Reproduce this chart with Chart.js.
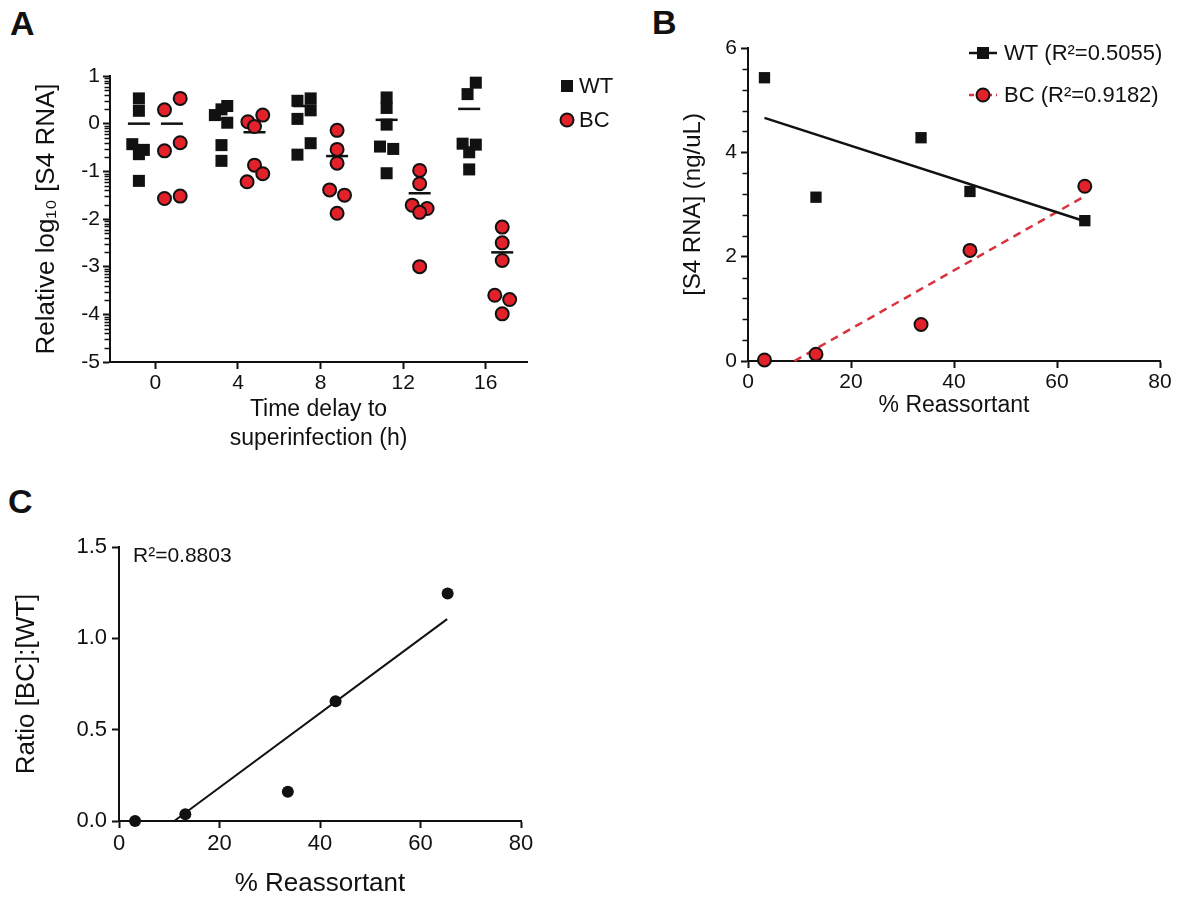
<!DOCTYPE html>
<html>
<head>
<meta charset="utf-8">
<script src="https://cdn.jsdelivr.net/npm/chart.js"></script>
<style>
  body { margin: 0; background: #fff; width: 1194px; height: 899px; position: relative; overflow: hidden;
         font-family: Arial, "Liberation Sans", sans-serif; }
  canvas { position: absolute; }
  .tag { position: absolute; font-weight: bold; font-size: 34px; color: #111; line-height: 1; }
</style>
</head>
<body>
<div class="tag" style="left:10px;top:6px">A</div>
<div class="tag" style="left:652px;top:5px">B</div>
<div class="tag" style="left:8px;top:484px">C</div>
<canvas id="chartA" style="left:0;top:0"></canvas>
<canvas id="chartB" style="left:600px;top:0"></canvas>
<canvas id="chartC" style="left:0;top:470px"></canvas>

<script>
// ---- data ----
// A: relative log10 [S4 RNA], 6 replicates per time point
const timeLabels = ['0', '4', '8', '12', '16'];
const wtLog = [
  [0.53, 0.27, -0.43, -0.55, -0.64, -1.20],
  [0.37, 0.30, 0.18, 0.02, -0.45, -0.78],
  [0.53, 0.48, 0.28, 0.10, -0.41, -0.65],
  [0.55, 0.33, -0.02, -0.48, -0.53, -1.04],
  [0.86, 0.62, -0.42, -0.44, -0.60, -0.96]
];
const bcLog = [
  [0.53, 0.29, -0.40, -0.57, -1.52, -1.57],
  [0.18, 0.04, -0.06, -0.87, -1.05, -1.22],
  [-0.14, -0.54, -0.83, -1.39, -1.50, -1.88],
  [-0.98, -1.26, -1.71, -1.78, -1.86, -3.00],
  [-2.17, -2.50, -2.87, -3.60, -3.69, -3.99]
];
const wtMean = [0.00, 0.10, 0.37, 0.08, 0.31];
const bcMean = [0.00, -0.18, -0.68, -1.46, -2.70];

// B and C: per % reassortant
const reassort = [3.2, 13.2, 33.6, 43.1, 65.4];
const wtConc = [5.43, 3.14, 4.28, 3.25, 2.69];
const bcConc = [0.02, 0.13, 0.70, 2.12, 3.35];
const wtFitX = [3.2, 65.4], wtFitY = [4.66, 2.68];
const bcFitX = [9.0, 65.4], bcFitY = [0.00, 3.16];
const ratio = [0.00, 0.037, 0.16, 0.655, 1.245];
const ratioFitX = [11.0, 65.3], ratioFitY = [0.00, 1.105];

// ---- layout / style ----
const INK = '#111';
const RED = '#e2212a';
const FONT = 'Arial, "Liberation Sans", sans-serif';
Chart.defaults.font.family = FONT;
Chart.defaults.color = INK;
Chart.defaults.animation = false;

// horizontal spread of the dots inside each column (category units)
const wtJit = [
  [-0.20, -0.20, -0.28, -0.14, -0.20, -0.20],
  [-0.13, -0.20, -0.28, -0.13, -0.20, -0.20],
  [-0.12, -0.28, -0.12, -0.28, -0.12, -0.28],
  [-0.20, -0.20, -0.20, -0.28, -0.12, -0.20],
  [-0.12, -0.22, -0.28, -0.12, -0.20, -0.20]
];
const bcJit = [
  [0.30, 0.11, 0.30, 0.11, 0.30, 0.11],
  [0.30, 0.12, 0.20, 0.20, 0.30, 0.11],
  [0.20, 0.20, 0.20, 0.11, 0.29, 0.20],
  [0.20, 0.20, 0.11, 0.29, 0.20, 0.20],
  [0.20, 0.20, 0.20, 0.11, 0.29, 0.20]
];

function pts(groups, jit) {
  const out = [];
  groups.forEach((g, i) => g.forEach((v, j) => out.push({ x: i + jit[i][j], y: v })));
  return out;
}
function pairs(xs, ys) { return xs.map((x, i) => ({ x: x, y: ys[i] })); }

function axis(o) {
  return {
    type: 'linear', min: o.min, max: o.max, position: o.pos,
    border: { display: true, color: INK, width: 2 },
    grid: { display: true, drawOnChartArea: false, drawTicks: true, tickLength: 7, tickWidth: 2, tickColor: INK },
    ticks: { color: INK, font: { size: o.fs || 21 }, padding: o.pad, stepSize: o.step, callback: o.cb },
    title: { display: true, text: o.title, color: INK, font: { size: o.ts || 24, lineHeight: 1.25 }, padding: o.titlePad },
    afterBuildTicks: o.ticks ? (s) => { s.ticks = o.ticks.map(v => ({ value: v })); } : undefined,
    afterFit: (s) => { if (o.w) s.width = o.w; if (o.h) s.height = o.h; }
  };
}

// short minor ticks on the y axis
const minorTicks = {
  id: 'minorTicks',
  afterDraw(chart, args, o) {
    if (!o.values) return;
    const s = chart.scales.y, ctx = chart.ctx, x = chart.chartArea.left - 1;
    ctx.save();
    ctx.strokeStyle = INK; ctx.lineWidth = 1.5;
    o.values.forEach(v => {
      const y = Math.round(s.getPixelForValue(v)) + 0.5;
      ctx.beginPath(); ctx.moveTo(x, y); ctx.lineTo(x - o.len, y); ctx.stroke();
    });
    ctx.restore();
  }
};

// legend drawn next to / inside the plot
const keyBox = {
  id: 'keyBox',
  afterDraw(chart, args, o) {
    if (!o.items) return;
    const ctx = chart.ctx, a = chart.chartArea;
    ctx.save();
    ctx.font = o.fs + 'px ' + FONT; ctx.textBaseline = 'middle'; ctx.fillStyle = INK;
    o.items.forEach((it, i) => {
      const x = a.right + o.dx, y = a.top + o.dy + i * o.gap;
      if (it.line) {
        ctx.beginPath(); ctx.strokeStyle = it.line; ctx.lineWidth = 2.5; ctx.setLineDash(it.dash || []);
        ctx.moveTo(x - 14, y); ctx.lineTo(x + 14, y); ctx.stroke(); ctx.setLineDash([]);
      }
      if (it.shape === 'rect') {
        ctx.fillStyle = INK; ctx.fillRect(x - 6, y - 6, 12, 12);
      } else {
        ctx.beginPath(); ctx.arc(x, y, 6.5, 0, Math.PI * 2);
        ctx.fillStyle = RED; ctx.fill(); ctx.lineWidth = 2; ctx.strokeStyle = INK; ctx.stroke();
      }
      ctx.fillStyle = INK;
      ctx.fillText(it.label, x + o.tx, y + 1);
    });
    ctx.restore();
  }
};

const note = {
  id: 'note',
  afterDraw(chart, args, o) {
    if (!o.text) return;
    const ctx = chart.ctx, a = chart.chartArea;
    ctx.save();
    ctx.font = '21px ' + FONT; ctx.textBaseline = 'middle'; ctx.fillStyle = INK;
    ctx.fillText(o.text, a.left + o.dx, a.top + o.dy);
    ctx.restore();
  }
};

function setSize(id, w, h) {
  const c = document.getElementById(id);
  c.width = w; c.height = h; c.style.width = w + 'px'; c.style.height = h + 'px';
  return c;
}

const base = { responsive: false, animation: false, events: [] };
const wtDot = { pointStyle: 'rect', pointRadius: 8.5, backgroundColor: INK, borderColor: INK, borderWidth: 0 };
const bcDot = { pointStyle: 'circle', pointRadius: 6.5, backgroundColor: RED, borderColor: INK, borderWidth: 2 };

// log-style minor ticks for panel A, 0.4 steps for panel B
const logMinor = [];
for (let n = -5; n < 1; n++) for (let k = 2; k <= 9; k++) logMinor.push(n + Math.log10(k));
const linMinor = [];
for (let v = 0.4; v < 6; v += 0.4) if (Math.abs(v / 2 - Math.round(v / 2)) > 0.01) linMinor.push(v);

// ---- panel A ----
new Chart(setSize('chartA', 640, 470), {
  type: 'scatter',
  data: {
    datasets: [
      Object.assign({ label: 'WT', data: pts(wtLog, wtJit), clip: false }, wtDot),
      Object.assign({ label: 'BC', data: pts(bcLog, bcJit), clip: false }, bcDot),
      { label: 'WT mean', data: wtMean.map((v, i) => ({ x: i - 0.2, y: v })), pointStyle: 'line',
        pointRadius: 11, borderColor: INK, borderWidth: 2.5 },
      { label: 'BC mean', data: bcMean.map((v, i) => ({ x: i + 0.2, y: v })), pointStyle: 'line',
        pointRadius: 11, borderColor: INK, borderWidth: 2.5 }
    ]
  },
  options: Object.assign({}, base, {
    layout: { padding: { left: 0, top: 76, right: 113, bottom: 0 } },
    plugins: {
      legend: { display: false }, tooltip: { enabled: false },
      minorTicks: { values: logMinor, len: 4.5 },
      keyBox: { fs: 22, dx: 40, dy: 10, gap: 34, tx: 12, items: [
        { shape: 'rect', label: 'WT' }, { shape: 'circle', label: 'BC' }] }
    },
    scales: {
      x: axis({ min: -0.55, max: 4.5, pos: 'bottom', ticks: [0, 1, 2, 3, 4], pad: 2, h: 108, ts: 23,
                cb: v => timeLabels[v], title: ['Time delay to', 'superinfection (h)'],
                titlePad: { top: 6, bottom: 17 } }),
      y: axis({ min: -5, max: 1, pos: 'left', step: 1, pad: 3, w: 110, ts: 26,
                title: 'Relative log\u2081\u2080 [S4 RNA]', titlePad: { top: 31, bottom: 0 } })
    }
  }),
  plugins: [minorTicks, keyBox]
});

// ---- panel B ----
new Chart(setSize('chartB', 594, 440), {
  type: 'scatter',
  data: {
    datasets: [
      Object.assign({ label: 'WT', data: pairs(reassort, wtConc), clip: false }, wtDot, { pointRadius: 8 }),
      Object.assign({ label: 'BC', data: pairs(reassort, bcConc), clip: false }, bcDot),
      { label: 'WT fit', data: pairs(wtFitX, wtFitY), showLine: true, pointRadius: 0,
        borderColor: INK, borderWidth: 2.5, clip: false },
      { label: 'BC fit', data: pairs(bcFitX, bcFitY), showLine: true, pointRadius: 0,
        borderColor: '#d8323d', borderWidth: 2.5, borderDash: [8, 6], clip: false }
    ]
  },
  options: Object.assign({}, base, {
    layout: { padding: { left: 0, top: 48, right: 34, bottom: 0 } },
    plugins: {
      legend: { display: false }, tooltip: { enabled: false },
      minorTicks: { values: linMinor, len: 4.5 },
      keyBox: { fs: 22, dx: -177, dy: 5, gap: 42, tx: 21, items: [
        { shape: 'rect', line: INK, label: 'WT (R\u00b2=0.5055)' },
        { shape: 'circle', line: '#d8323d', dash: [5, 4], label: 'BC (R\u00b2=0.9182)' }] }
    },
    scales: {
      x: axis({ min: 0, max: 80, pos: 'bottom', step: 20, pad: 2, h: 79, ts: 23,
                title: '% Reassortant', titlePad: { top: 4, bottom: 20 } }),
      y: axis({ min: 0, max: 6, pos: 'left', step: 2, pad: 4, w: 148, ts: 24,
                title: '[S4 RNA] (ng/uL)', titlePad: { top: 78, bottom: 0 } })
    }
  }),
  plugins: [minorTicks, keyBox]
});

// ---- panel C ----
new Chart(setSize('chartC', 600, 440), {
  type: 'scatter',
  data: {
    datasets: [
      { label: 'Ratio', data: pairs(reassort, ratio), pointStyle: 'circle', pointRadius: 6,
        backgroundColor: INK, borderColor: INK, borderWidth: 0, clip: false },
      { label: 'Ratio fit', data: pairs(ratioFitX, ratioFitY), showLine: true, pointRadius: 0,
        borderColor: INK, borderWidth: 2, clip: false }
    ]
  },
  options: Object.assign({}, base, {
    layout: { padding: { left: 0, top: 77, right: 79, bottom: 0 } },
    plugins: {
      legend: { display: false }, tooltip: { enabled: false },
      note: { text: 'R\u00b2=0.8803', dx: 14, dy: 9 }
    },
    scales: {
      x: axis({ min: 0, max: 80, pos: 'bottom', step: 20, pad: 3, h: 89, fs: 22, ts: 26,
                title: '% Reassortant', titlePad: { top: 4, bottom: 10 } }),
      y: axis({ min: 0, max: 1.5, pos: 'left', step: 0.5, pad: 5, w: 119, fs: 22, ts: 26,
                cb: v => v.toFixed(1),
                title: 'Ratio [BC]:[WT]', titlePad: { top: 11, bottom: 0 } })
    }
  }),
  plugins: [note]
});
</script>
</body>
</html>
